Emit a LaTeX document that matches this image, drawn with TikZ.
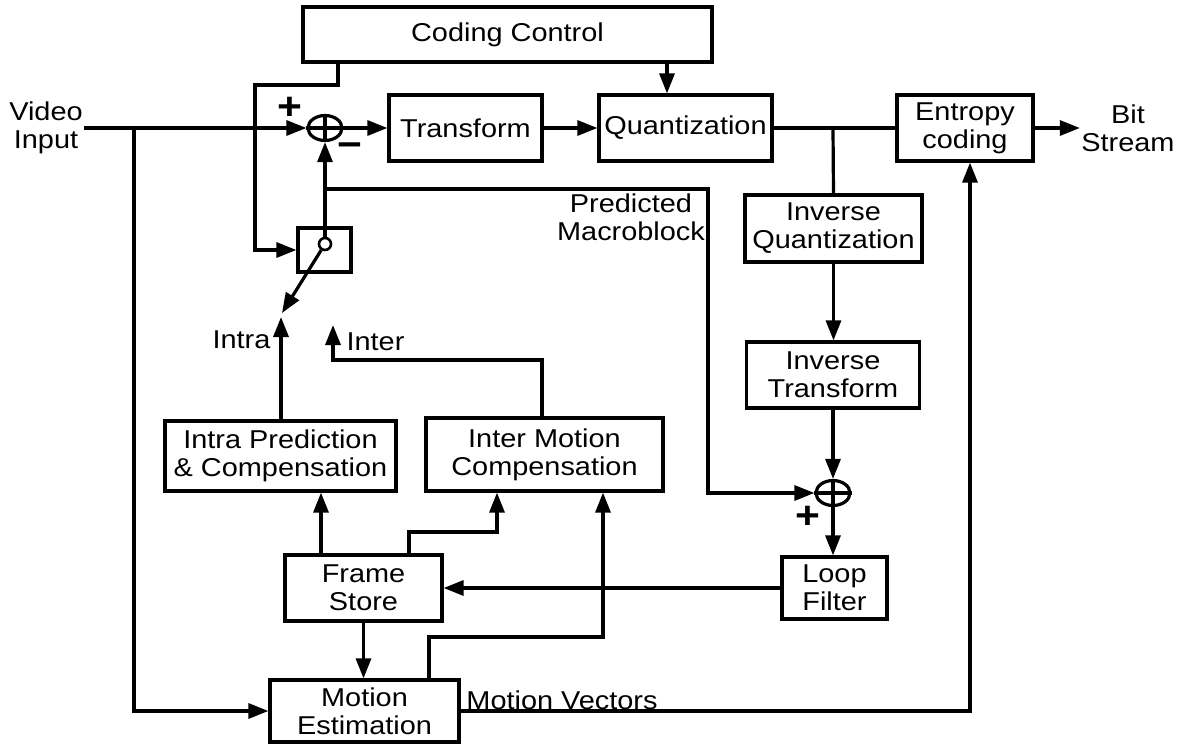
\documentclass[tikz,border=0pt]{standalone}
\usepackage{fontspec}
\setmainfont{Liberation Sans}[FakeStretch=1.12]
\usetikzlibrary{arrows.meta,shapes.geometric}

\begin{document}
\begin{tikzpicture}[x=0.5pt, y=-0.5pt, line width=1.6pt,
    every node/.style={font=\fontsize{12.9}{14}\selectfont},
    blk/.style={draw, rectangle, align=center, inner sep=0pt},
    sumnode/.style={draw, ellipse, inner sep=0pt, minimum width=17pt, minimum height=12.5pt},
    pivnode/.style={draw, circle, inner sep=0pt, minimum size=6pt, line width=1.3pt},
    lbl/.style={align=center, inner sep=0pt},
    sgn/.style={inner sep=0pt, font=\fontsize{19}{19}\selectfont\bfseries},
    arr/.style={-{Triangle[length=10pt,width=7.5pt]}},
  ]
  \useasboundingbox (0,0) rectangle (1185,744);

  % blocks
  \node[blk, minimum width=204.5pt, minimum height=27.5pt] (ctrl) at (507.5,34.5) {Coding Control};
  \node[blk, minimum width=76.5pt, minimum height=33pt] (trans) at (465.5,128) {Transform};
  \node[blk, minimum width=86.5pt, minimum height=33pt] (quant) at (685.5,128) {Quantization};
  \node[blk, minimum width=68pt, minimum height=33pt] (entropy) at (965,128) {Entropy\\coding};
  \node[blk, minimum width=88.5pt, minimum height=33.5pt] (iq) at (833.5,228.5) {Inverse\\Quantization};
  \node[blk, minimum width=86.5pt, minimum height=33pt] (it) at (833,375) {Inverse\\Transform};
  \node[blk, minimum width=115.5pt, minimum height=35pt] (intra) at (280.5,456) {Intra Prediction\\\& Compensation};
  \node[blk, minimum width=118.5pt, minimum height=36.5pt] (inter) at (544.5,454.5) {Inter Motion\\Compensation};
  \node[blk, minimum width=52.5pt, minimum height=31pt] (loop) at (834.5,588) {Loop\\Filter};
  \node[blk, minimum width=78.5pt, minimum height=33pt] (frame) at (363.5,588) {Frame\\Store};
  \node[blk, minimum width=94.5pt, minimum height=31pt] (me) at (364.5,711) {Motion\\Estimation};
  \node[blk, minimum width=26.5pt, minimum height=22pt] (sw) at (324.5,250) {};
  \node[pivnode] (piv) at (325,244) {};
  \node[sumnode] (sum1) at (325,128) {};
  \node[sumnode] (sum2) at (833,493) {};
  \foreach \s in {sum1,sum2}
    \draw (\s.north) -- (\s.south) (\s.west) -- (\s.east);

  % labels
  \node[lbl] (vin) at (46,128) {Video\\Input};
  \node[lbl] (bits) at (1128,128) {Bit\\Stream};
  \node[lbl] (pred) at (631,217) {Predicted\\Macroblock};
  \node[lbl] (mv) at (562,700) {Motion Vectors};
  \node[lbl, anchor=east] (intralbl) at (272,340) {Intra};
  \node[lbl, anchor=west] (interlbl) at (345,342) {Inter};
  \node[sgn] (plus1) at (290,108) {+};
  \node[sgn] (minus1) at (350,150) {−};
  \node[sgn] (plus2) at (808,517) {+};

  % bends
  \coordinate (vsplit) at (134,128);
  \coordinate (ccA) at (338,85);
  \coordinate (ccB) at (255,85);
  \coordinate (qcx) at (667,80);
  \coordinate (qsplit) at (833,128);
  \coordinate (pmA) at (325,189);
  \coordinate (pmB) at (708,189);
  \coordinate (swtip) at (282,313);
  \coordinate (intratip) at (281,317);
  \coordinate (intertip) at (333,325);
  \coordinate (interB) at (542,360);
  \coordinate (fsA) at (409,532);
  \coordinate (fsB) at (497,532);
  \coordinate (fsC) at (321,520);
  \coordinate (meA) at (429,637);
  \coordinate (meB) at (603,637);
  \coordinate (mvA) at (970,711);

  % forward path
  \draw[arr] (vin.east) -- (sum1.west);
  \draw[arr] (vsplit) |- (me.west);
  \draw[arr] (sum1.east) -- (trans.west);
  \draw[arr] (trans.east) -- (quant.west);
  \draw (quant.east) -- (entropy.west);
  \draw[arr] (entropy.east) -- (bits.west);
  \draw[arr] (ctrl.south -| qcx) -- (qcx |- quant.north);
  \draw[arr] (ctrl.south -| ccA) -- (ccA) -- (ccB) |- (sw.west);

  % reconstruction loop
  \draw (qsplit) -- (iq.north);
  \draw[arr] (iq.south) -- (iq.south |- it.north);
  \draw[arr] (it.south -| sum2) -- (sum2.north);
  \draw[arr] (sum2.south) -- (sum2.south |- loop.north);
  \draw[arr] (loop.west) -- (frame.east);
  \draw[arr] (frame.south) -- (frame.south |- me.north);

  % prediction
  \draw[arr] (piv.north) -- (sum1.south);
  \draw[arr] (pmA) -- (pmB) |- (sum2.west);
  \draw[arr] (piv) -- (swtip);
  \draw[arr] (intra.north -| intratip) -- (intratip);
  \draw[arr] (interB |- inter.north) -- (interB) -| (intertip);
  \draw[arr] (frame.north -| fsC) -- (fsC |- intra.south);
  \draw[arr] (frame.north -| fsA) -- (fsA) -- (fsB) -- (fsB |- inter.south);
  \draw[arr] (me.north -| meA) -- (meA) -- (meB) -- (meB |- inter.south);
  \draw[arr] (me.east) -- (mvA) -- (mvA |- entropy.south);
\end{tikzpicture}
\end{document}
